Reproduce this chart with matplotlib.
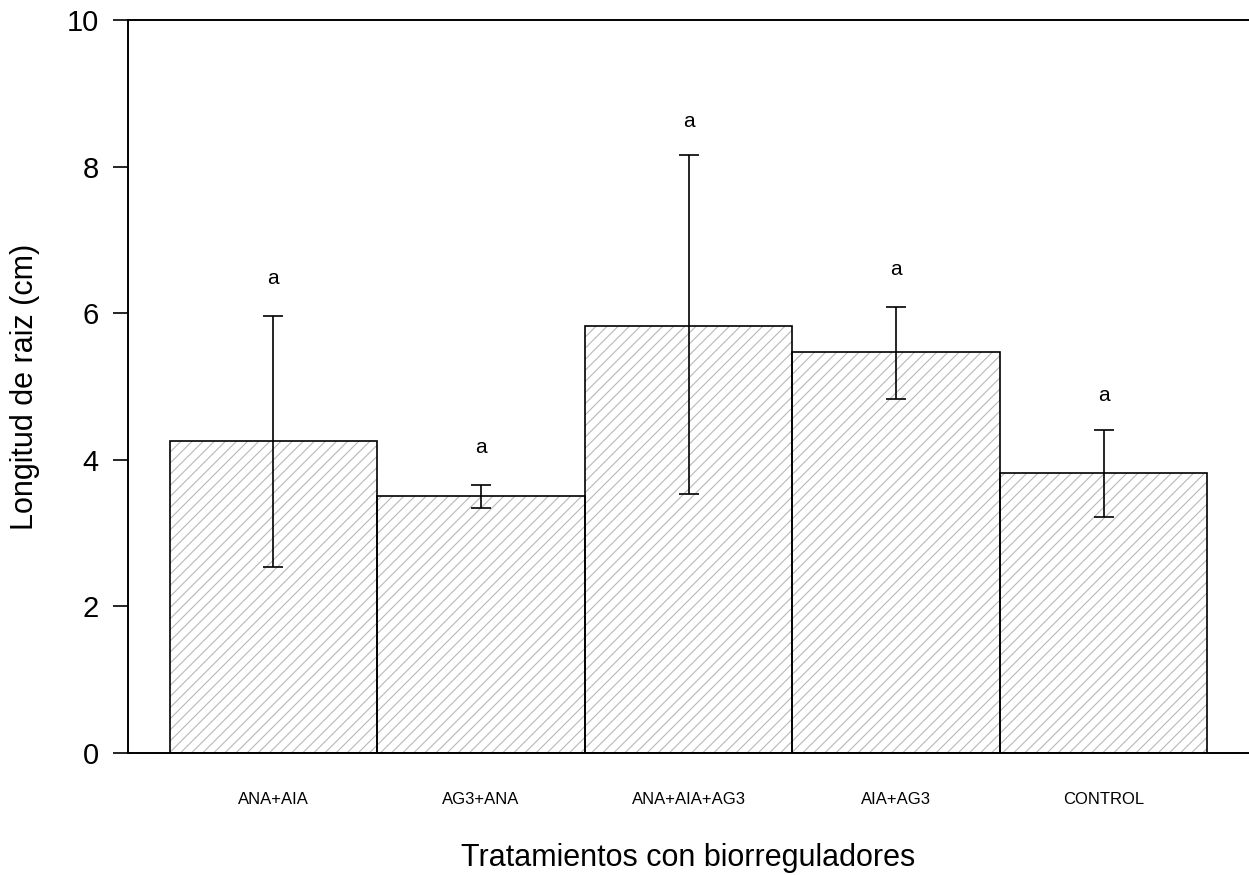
import matplotlib
matplotlib.use("Agg")
import matplotlib.pyplot as plt
import numpy as np

plt.rcParams['font.family'] = ['Liberation Sans', 'DejaVu Sans']
plt.rcParams['hatch.linewidth'] = 0.8

# data
tratamientos = ['ANA+AIA', 'AG3+ANA', 'ANA+AIA+AG3', 'AIA+AG3', 'CONTROL']
media = [4.26, 3.51, 5.83, 5.47, 3.82]
err_sup = [5.96, 3.66, 8.16, 6.08, 4.41]
err_inf = [2.54, 3.34, 3.53, 4.83, 3.22]
letras = ['a', 'a', 'a', 'a', 'a']
pos_letra = [6.48, 4.17, 8.62, 6.59, 4.88]

x = np.arange(len(tratamientos))
media = np.array(media)
yerr = [media - np.array(err_inf), np.array(err_sup) - media]

fig = plt.figure(figsize=(12.49, 8.75), dpi=100)
ax = fig.add_axes([128 / 1249, 1 - 753 / 875, 1 - 128 / 1249, (753 - 20) / 875])

# gray hatch first, then black outline on top
ax.bar(x, media, width=1.0, color='white', edgecolor='#b8b8b8', hatch='///',
       linewidth=0, zorder=2)
ax.bar(x, media, width=1.0, color='none', edgecolor='black',
       linewidth=1.2, zorder=2.5)
ax.errorbar(x, media, yerr=yerr, fmt='none', ecolor='black', elinewidth=1.2,
            capsize=7, capthick=1.2, zorder=3)
for xi, yi, t in zip(x, pos_letra, letras):
    ax.text(xi, yi, t, ha='center', va='center', fontsize=15)

ax.set_xlim(-0.7, 4.7)
ax.set_ylim(0, 10)
ax.set_yticks([0, 2, 4, 6, 8, 10])
ax.set_xticks(x)
ax.set_xticklabels(tratamientos, fontsize=12)
ax.tick_params(axis='x', length=0, pad=28)
ax.tick_params(axis='y', labelsize=21, length=11, width=1.2, pad=10)

ax.spines['right'].set_visible(False)
for s in ['left', 'top', 'bottom']:
    ax.spines[s].set_linewidth(1.4)

ax.set_ylabel('Longitud de raiz (cm)', fontsize=22, labelpad=19)
ax.set_xlabel('Tratamientos con biorreguladores', fontsize=22, labelpad=26)

fig.savefig('out.png', dpi=100)
